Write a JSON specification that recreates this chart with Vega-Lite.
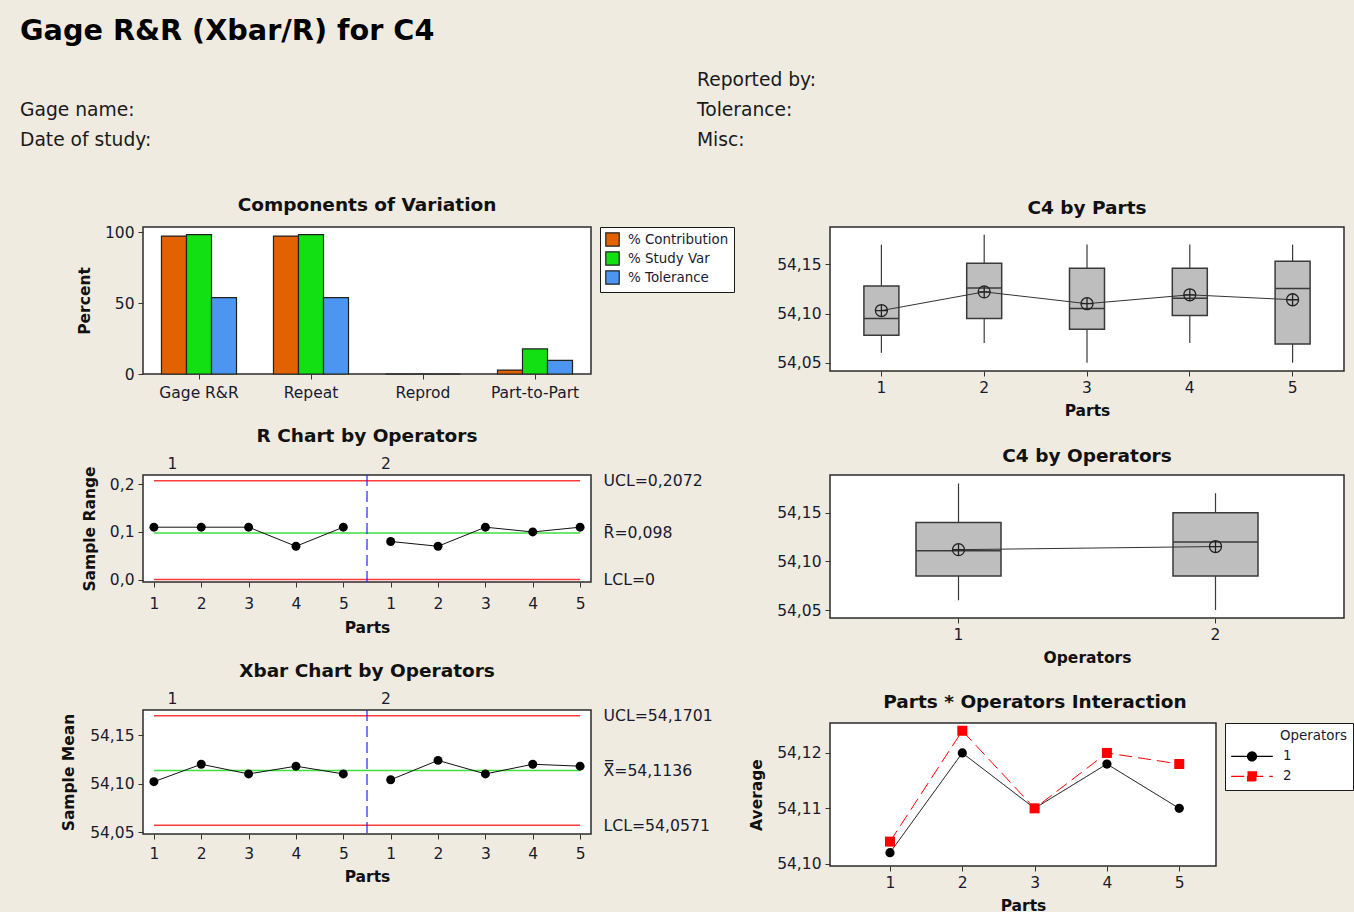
{
  "$schema": "https://vega.github.io/schema/vega-lite/v6.json",
  "background": "#EFEBE1",
  "padding": {"left": 20, "top": 17, "right": 0, "bottom": 0},
  "config": {
    "font": "DejaVu Sans",
    "view": {"stroke": "#2b2b2b", "strokeWidth": 1.5, "fill": "#FFFFFF"},
    "axis": {"domain": false, "grid": false, "tickColor": "#333333", "tickSize": 5, "tickWidth": 1, "labelFont": "DejaVu Sans", "labelFontSize": 15.5, "labelColor": "#1a1a2e", "labelPadding": 4, "labelFlush": false, "labelOverlap": false, "titleFont": "DejaVu Sans", "titleFontSize": 15.5, "titleFontWeight": "bold", "titleColor": "#111111", "titlePadding": 8},
    "axisX": {"labelAngle": 0},
    "axisY": {"titlePadding": 12},
    "title": {"font": "DejaVu Sans", "fontSize": 18.5, "fontWeight": "bold", "color": "#111111", "offset": 10},
    "legend": {"labelFont": "DejaVu Sans", "titleFont": "DejaVu Sans", "labelColor": "#1a1a2e", "titleColor": "#1a1a2e"}
  },
  "datasets": {
    "components": [
      {"component": "Gage R&R", "measure": "% Contribution", "percent": 97.4},
      {"component": "Gage R&R", "measure": "% Study Var", "percent": 98.4},
      {"component": "Gage R&R", "measure": "% Tolerance", "percent": 54.0},
      {"component": "Repeat", "measure": "% Contribution", "percent": 97.4},
      {"component": "Repeat", "measure": "% Study Var", "percent": 98.4},
      {"component": "Repeat", "measure": "% Tolerance", "percent": 54.0},
      {"component": "Reprod", "measure": "% Contribution", "percent": 0},
      {"component": "Reprod", "measure": "% Study Var", "percent": 0},
      {"component": "Reprod", "measure": "% Tolerance", "percent": 0},
      {"component": "Part-to-Part", "measure": "% Contribution", "percent": 2.8},
      {"component": "Part-to-Part", "measure": "% Study Var", "percent": 17.7},
      {"component": "Part-to-Part", "measure": "% Tolerance", "percent": 9.6}
    ],
    "samples": [
      {"sample": 1, "operator": "1", "part": 1, "range": 0.11, "mean": 54.102},
      {"sample": 2, "operator": "1", "part": 2, "range": 0.11, "mean": 54.120},
      {"sample": 3, "operator": "1", "part": 3, "range": 0.11, "mean": 54.110},
      {"sample": 4, "operator": "1", "part": 4, "range": 0.07, "mean": 54.118},
      {"sample": 5, "operator": "1", "part": 5, "range": 0.11, "mean": 54.110},
      {"sample": 6, "operator": "2", "part": 1, "range": 0.08, "mean": 54.104},
      {"sample": 7, "operator": "2", "part": 2, "range": 0.07, "mean": 54.124},
      {"sample": 8, "operator": "2", "part": 3, "range": 0.11, "mean": 54.110},
      {"sample": 9, "operator": "2", "part": 4, "range": 0.10, "mean": 54.120},
      {"sample": 10, "operator": "2", "part": 5, "range": 0.11, "mean": 54.118}
    ],
    "rLimits": [
      {"kind": "UCL", "value": 0.2072},
      {"kind": "Center", "value": 0.098},
      {"kind": "LCL", "value": 0}
    ],
    "xLimits": [
      {"kind": "UCL", "value": 54.1701},
      {"kind": "Center", "value": 54.1136},
      {"kind": "LCL", "value": 54.0571}
    ],
    "partsBox": [
      {"part": 1, "min": 54.06, "q1": 54.078, "median": 54.095, "q3": 54.128, "max": 54.17, "mean": 54.103},
      {"part": 2, "min": 54.07, "q1": 54.095, "median": 54.126, "q3": 54.151, "max": 54.18, "mean": 54.122},
      {"part": 3, "min": 54.05, "q1": 54.084, "median": 54.105, "q3": 54.146, "max": 54.17, "mean": 54.110},
      {"part": 4, "min": 54.07, "q1": 54.098, "median": 54.1155, "q3": 54.146, "max": 54.17, "mean": 54.119},
      {"part": 5, "min": 54.05, "q1": 54.069, "median": 54.1255, "q3": 54.153, "max": 54.17, "mean": 54.114}
    ],
    "opsBox": [
      {"operator": "1", "min": 54.06, "q1": 54.085, "median": 54.111, "q3": 54.14, "max": 54.18, "mean": 54.112},
      {"operator": "2", "min": 54.05, "q1": 54.085, "median": 54.12, "q3": 54.15, "max": 54.17, "mean": 54.1152}
    ]
  },
  "spacing": 32,
  "resolve": {"scale": {"color": "independent", "shape": "independent", "strokeDash": "independent"}, "legend": {"color": "independent", "shape": "independent", "strokeDash": "independent"}},
  "vconcat": [
    {
      "bounds": "flush",
      "spacing": 54,
      "hconcat": [
        {
          "width": 500, "height": 1,
          "view": {"stroke": null, "fill": null},
          "data": {"values": [{}]},
          "mark": {"type": "text", "text": " "},
          "title": {
            "text": "Gage R&R (Xbar/R) for C4",
            "subtitle": ["Gage name:", "Date of study:"],
            "anchor": "start", "dx": -123, "offset": 2,
            "fontSize": 28.7, "fontWeight": "bold", "color": "#000000",
            "subtitleFont": "DejaVu Sans", "subtitleFontSize": 18.7, "subtitleColor": "#1a1a1a", "subtitleLineHeight": 30, "subtitlePadding": 55
          }
        },
        {
          "width": 400, "height": 1,
          "view": {"stroke": null, "fill": null},
          "data": {"values": [{}]},
          "mark": {"type": "text", "text": " "},
          "title": {"text": ["Reported by:", "Tolerance:", "Misc:"], "anchor": "start", "offset": 2, "fontSize": 18.7, "fontWeight": "normal", "color": "#1a1a1a", "lineHeight": 30}
        }
      ]
    },
    {
      "spacing": 12,
      "resolve": {"scale": {"color": "independent", "shape": "independent", "strokeDash": "independent"}, "legend": {"color": "independent", "shape": "independent", "strokeDash": "independent"}},
      "hconcat": [
        {
          "spacing": 23,
          "resolve": {"scale": {"color": "independent"}, "legend": {"color": "independent"}},
          "vconcat": [
            {
              "width": 448, "height": 147,
              "title": {"text": "Components of Variation", "offset": 11},
              "data": {"name": "components"},
              "mark": {"type": "bar", "stroke": "#222222", "strokeWidth": 1.2},
              "encoding": {
                "x": {"field": "component", "type": "nominal", "sort": null, "scale": {"paddingInner": 0.33, "paddingOuter": 0.165}, "axis": {"title": null, "labelPadding": 6}},
                "xOffset": {"field": "measure", "type": "nominal", "sort": null, "scale": {"paddingInner": 0, "paddingOuter": 0}},
                "y": {"field": "percent", "type": "quantitative", "scale": {"domain": [0, 103.8], "nice": false}, "axis": {"values": [0, 50, 100], "title": "Percent"}},
                "color": {"field": "measure", "type": "nominal", "sort": null, "scale": {"domain": ["% Contribution", "% Study Var", "% Tolerance"], "range": ["#E36200", "#12E012", "#4C95F0"]}, "legend": {"title": null, "orient": "right", "offset": 9, "padding": 5, "strokeColor": "#1a1a1a", "fillColor": "#FFFFFF", "symbolType": "square", "symbolSize": 180, "symbolStrokeColor": "#222222", "symbolStrokeWidth": 1.2, "labelFontSize": 13.4, "labelOffset": 8, "rowPadding": 0}}
              }
            },
            {
              "width": 448, "height": 107,
              "title": {"text": "R Chart by Operators", "offset": 11},
              "layer": [
                {
                  "data": {"name": "rLimits"},
                  "mark": {"type": "rule", "strokeWidth": 1.5},
                  "encoding": {
                    "x": {"datum": 1, "type": "quantitative", "axis": null, "scale": {"domain": [0.77, 10.23], "nice": false, "zero": false}},
                    "x2": {"datum": 10},
                    "y": {"field": "value", "type": "quantitative", "scale": {"domain": [-0.005, 0.2195], "nice": false, "zero": false}, "axis": {"orient": "right", "values": [0, 0.098, 0.2072], "ticks": false, "title": null, "labelPadding": 12, "labelFontSize": 15.7, "labelExpr": "(datum.value > 0.15 ? 'UCL=' : datum.value > 0.05 ? 'R\u0304=' : 'LCL=') + (datum.value == 0 ? '0' : replace(format(datum.value, '.4~f'), '.', ','))"}},
                    "color": {"field": "kind", "type": "nominal", "scale": {"domain": ["UCL", "Center", "LCL"], "range": ["#FF3A3A", "#3FDF3F", "#FF3A3A"]}, "legend": null}
                  }
                },
                {
                  "data": {"values": [{}]},
                  "mark": {"type": "rule", "color": "#2424FF", "strokeWidth": 1.2, "strokeDash": [11, 5]},
                  "encoding": {"x": {"datum": 5.5, "type": "quantitative", "axis": null}}
                },
                {
                  "data": {"name": "samples"},
                  "mark": {"type": "line", "color": "#111111", "strokeWidth": 1},
                  "encoding": {
                    "x": {"field": "sample", "type": "quantitative", "axis": {"values": [1, 2, 3, 4, 5, 6, 7, 8, 9, 10], "labelExpr": "'' + ((datum.value - 1) % 5 + 1)", "title": "Parts", "labelPadding": 9, "titlePadding": 9}},
                    "y": {"field": "range", "type": "quantitative", "axis": {"orient": "left", "values": [0, 0.1, 0.2], "labelExpr": "replace(format(datum.value, '.1f'), '.', ',')", "title": "Sample Range"}},
                    "detail": {"field": "operator", "type": "nominal"}
                  }
                },
                {
                  "data": {"name": "samples"},
                  "mark": {"type": "point", "filled": true, "color": "#000000", "size": 80, "opacity": 1},
                  "encoding": {
                    "x": {"field": "sample", "type": "quantitative", "axis": {"orient": "top", "values": [1.38, 5.89], "labelExpr": "datum.value < 5 ? '1' : '2'", "ticks": false, "title": null, "labelPadding": 4}},
                    "y": {"field": "range", "type": "quantitative", "axis": null}
                  }
                }
              ],
              "resolve": {"axis": {"x": "independent", "y": "independent"}}
            },
            {
              "width": 448, "height": 124,
              "title": {"text": "Xbar Chart by Operators", "offset": 11},
              "layer": [
                {
                  "data": {"name": "xLimits"},
                  "mark": {"type": "rule", "strokeWidth": 1.5},
                  "encoding": {
                    "x": {"datum": 1, "type": "quantitative", "axis": null, "scale": {"domain": [0.77, 10.23], "nice": false, "zero": false}},
                    "x2": {"datum": 10},
                    "y": {"field": "value", "type": "quantitative", "scale": {"domain": [54.048, 54.176], "nice": false, "zero": false}, "axis": {"orient": "right", "values": [54.0571, 54.1136, 54.1701], "ticks": false, "title": null, "labelPadding": 12, "labelFontSize": 15.7, "labelExpr": "(datum.value > 54.15 ? 'UCL=' : datum.value > 54.08 ? 'X\u033F=' : 'LCL=') + replace(format(datum.value, '.4f'), '.', ',')"}},
                    "color": {"field": "kind", "type": "nominal", "scale": {"domain": ["UCL", "Center", "LCL"], "range": ["#FF3A3A", "#3FDF3F", "#FF3A3A"]}, "legend": null}
                  }
                },
                {
                  "data": {"values": [{}]},
                  "mark": {"type": "rule", "color": "#2424FF", "strokeWidth": 1.2, "strokeDash": [11, 5]},
                  "encoding": {"x": {"datum": 5.5, "type": "quantitative", "axis": null}}
                },
                {
                  "data": {"name": "samples"},
                  "mark": {"type": "line", "color": "#111111", "strokeWidth": 1},
                  "encoding": {
                    "x": {"field": "sample", "type": "quantitative", "axis": {"values": [1, 2, 3, 4, 5, 6, 7, 8, 9, 10], "labelExpr": "'' + ((datum.value - 1) % 5 + 1)", "title": "Parts", "labelPadding": 7}},
                    "y": {"field": "mean", "type": "quantitative", "axis": {"orient": "left", "values": [54.05, 54.1, 54.15], "labelExpr": "replace(format(datum.value, '.2f'), '.', ',')", "title": "Sample Mean", "titlePadding": 13}},
                    "detail": {"field": "operator", "type": "nominal"}
                  }
                },
                {
                  "data": {"name": "samples"},
                  "mark": {"type": "point", "filled": true, "color": "#000000", "size": 80, "opacity": 1},
                  "encoding": {
                    "x": {"field": "sample", "type": "quantitative", "axis": {"orient": "top", "values": [1.38, 5.89], "labelExpr": "datum.value < 5 ? '1' : '2'", "ticks": false, "title": null, "labelPadding": 4}},
                    "y": {"field": "mean", "type": "quantitative", "axis": null}
                  }
                }
              ],
              "resolve": {"axis": {"x": "independent", "y": "independent"}}
            }
          ]
        },
        {
          "spacing": 25,
          "resolve": {"scale": {"color": "independent", "shape": "independent", "strokeDash": "independent"}, "legend": {"color": "independent", "shape": "independent", "strokeDash": "independent"}},
          "vconcat": [
            {
              "width": 514, "height": 144,
              "title": {"text": "C4 by Parts", "offset": 10},
              "data": {"name": "partsBox"},
              "encoding": {"x": {"field": "part", "type": "ordinal", "scale": {"paddingInner": 0, "paddingOuter": 0}, "axis": {"title": "Parts"}}},
              "layer": [
                {"mark": {"type": "rule", "color": "#3a3a3a", "strokeWidth": 1.2}, "encoding": {"y": {"field": "min", "type": "quantitative", "scale": {"domain": [54.0416, 54.1879], "nice": false, "zero": false}, "axis": {"values": [54.05, 54.1, 54.15], "labelExpr": "replace(format(datum.value, '.2f'), '.', ',')", "title": null}}, "y2": {"field": "max"}}},
                {"mark": {"type": "bar", "size": 35, "fill": "#BEBEBE", "stroke": "#3a3a3a", "strokeWidth": 1.5}, "encoding": {"y": {"field": "q1", "type": "quantitative"}, "y2": {"field": "q3"}}},
                {"mark": {"type": "tick", "size": 35, "thickness": 1.5, "color": "#3a3a3a", "opacity": 1}, "encoding": {"y": {"field": "median", "type": "quantitative"}}},
                {"mark": {"type": "line", "color": "#333333", "strokeWidth": 1}, "encoding": {"y": {"field": "mean", "type": "quantitative"}}},
                {"mark": {"type": "point", "shape": "M-1,0A1,1 0 1,1 1,0A1,1 0 1,1 -1,0M-1,0L1,0M0,-1L0,1", "filled": false, "stroke": "#222222", "strokeWidth": 1.3, "size": 144, "opacity": 1}, "encoding": {"y": {"field": "mean", "type": "quantitative"}}}
              ]
            },
            {
              "width": 514, "height": 143,
              "title": {"text": "C4 by Operators", "offset": 10},
              "data": {"name": "opsBox"},
              "encoding": {"x": {"field": "operator", "type": "ordinal", "scale": {"paddingInner": 0, "paddingOuter": 0}, "axis": {"title": "Operators"}}},
              "layer": [
                {"mark": {"type": "rule", "color": "#3a3a3a", "strokeWidth": 1.2}, "encoding": {"y": {"field": "min", "type": "quantitative", "scale": {"domain": [54.0418, 54.1887], "nice": false, "zero": false}, "axis": {"values": [54.05, 54.1, 54.15], "labelExpr": "replace(format(datum.value, '.2f'), '.', ',')", "title": null}}, "y2": {"field": "max"}}},
                {"mark": {"type": "bar", "size": 85, "fill": "#BEBEBE", "stroke": "#3a3a3a", "strokeWidth": 1.5}, "encoding": {"y": {"field": "q1", "type": "quantitative"}, "y2": {"field": "q3"}}},
                {"mark": {"type": "tick", "size": 85, "thickness": 1.5, "color": "#3a3a3a", "opacity": 1}, "encoding": {"y": {"field": "median", "type": "quantitative"}}},
                {"mark": {"type": "line", "color": "#333333", "strokeWidth": 1}, "encoding": {"y": {"field": "mean", "type": "quantitative"}}},
                {"mark": {"type": "point", "shape": "M-1,0A1,1 0 1,1 1,0A1,1 0 1,1 -1,0M-1,0L1,0M0,-1L0,1", "filled": false, "stroke": "#222222", "strokeWidth": 1.3, "size": 144, "opacity": 1}, "encoding": {"y": {"field": "mean", "type": "quantitative"}}}
              ]
            },
            {
              "width": 386, "height": 143,
              "title": {"text": "Parts * Operators Interaction", "offset": 11, "dx": 12},
              "data": {"name": "samples"},
              "encoding": {
                "x": {"field": "part", "type": "ordinal", "scale": {"type": "point", "padding": 0.669, "align": 0.62}, "axis": {"title": "Parts"}},
                "y": {"field": "mean", "type": "quantitative", "scale": {"domain": [54.0996, 54.1254], "nice": false, "zero": false}, "axis": {"values": [54.1, 54.11, 54.12], "labelExpr": "replace(format(datum.value, '.2f'), '.', ',')", "title": "Average"}}
              },
              "layer": [
                {
                  "mark": {"type": "line", "strokeWidth": 1},
                  "encoding": {
                    "color": {"field": "operator", "type": "nominal", "scale": {"domain": ["1", "2"], "range": ["#000000", "#FF0000"]}, "legend": {"title": "Operators", "orient": "right", "offset": 9, "padding": 6, "strokeColor": "#1a1a1a", "fillColor": "#FFFFFF", "titleFontWeight": "normal", "titleFontSize": 13.4, "labelFontSize": 13.4, "symbolSize": 256, "symbolOffset": 12, "labelOffset": 22, "rowPadding": 4, "encode": {"title": {"update": {"dx": {"value": 49}}}, "symbols": {"update": {"shape": {"signal": "datum.value === '1' ? 'M-2.6,0L2.6,0M-0.56,0A0.56,0.56 0 1,1 0.56,0A0.56,0.56 0 1,1 -0.56,0Z' : 'M-2.6,0L2.6,0M-0.56,-0.56L0.56,-0.56L0.56,0.56L-0.56,0.56Z'"}, "fill": {"signal": "datum.value === '1' ? '#000000' : '#FF0000'"}, "stroke": {"signal": "datum.value === '1' ? '#000000' : '#FF0000'"}, "strokeWidth": {"value": 1.2}, "strokeDash": {"value": [1, 0]}, "opacity": {"value": 1}, "fillOpacity": {"value": 1}}}}}},
                    "strokeDash": {"field": "operator", "type": "nominal", "scale": {"domain": ["1", "2"], "range": [[1, 0], [13, 6]]}, "legend": null}
                  }
                },
                {
                  "transform": [{"filter": "datum.operator === '1'"}],
                  "mark": {"type": "point", "shape": "circle", "filled": true, "color": "#000000", "opacity": 1, "size": 85}
                },
                {
                  "transform": [{"filter": "datum.operator === '2'"}],
                  "mark": {"type": "point", "shape": "square", "filled": true, "color": "#FF0000", "opacity": 1, "size": 100}
                }
              ]
            }
          ]
        }
      ]
    }
  ]
}
